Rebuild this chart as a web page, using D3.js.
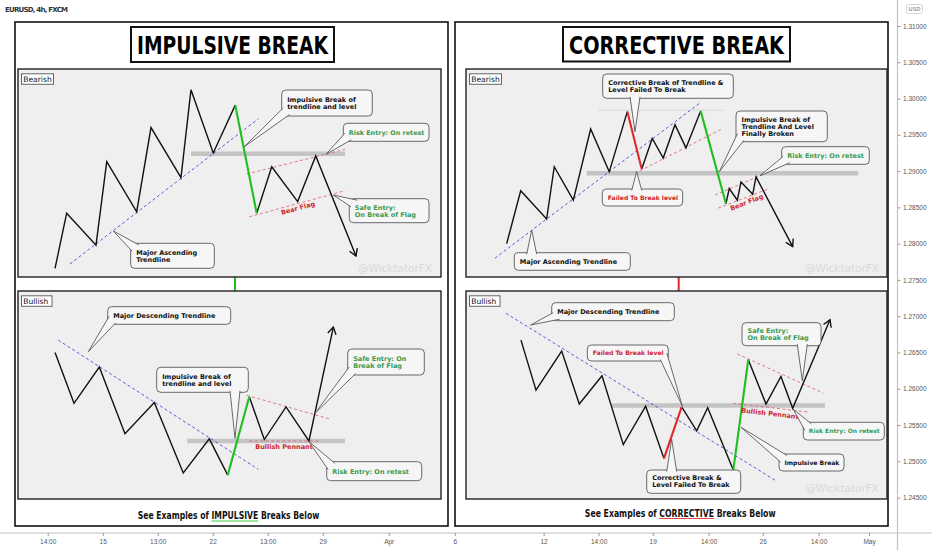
<!DOCTYPE html>
<html lang="en">
<head>
<meta charset="utf-8">
<title>Impulsive vs Corrective Break</title>
<script src="https://cdnjs.cloudflare.com/ajax/libs/d3/7.8.5/d3.min.js"></script>
<style>
    body { margin: 0; background: #fff; }
    svg { display: block; }
    text { font-family: "DejaVu Sans", sans-serif; }
    .axis text { font-family: "Liberation Sans", sans-serif; font-size: 6.5px; fill: #555; }
    .axis line { stroke: #999; }
    .axis path { display: none; }
</style>
</head>
<body>
<svg width="932" height="550"></svg>
<script>
// ---- axis data (x in 4h bars, y in price) ----
const xTickBars   = [5, 11, 17, 23, 29, 35, 42.2, 49.4, 59.1, 65.1, 71, 77.1, 83, 89.1, 94.6];
const xTickLabels = ["14:00", "15", "13:00", "22", "13:00", "29", "Apr", "6", "12", "14:00", "19", "14:00", "26", "14:00", "May"];
const priceTicks  = [1.245, 1.25, 1.255, 1.26, 1.265, 1.27, 1.275, 1.28, 1.285, 1.29, 1.295, 1.30, 1.305, 1.31];

// ---- impulsive / bearish  [bar, price] ----
const tlBefore  = [[5.80,1.2766],[7.07,1.2842],[10.27,1.2798],[11.44,1.2913],[14.71,1.2844],[16.27,1.2960],[19.54,1.2891],[20.63,1.3012],[23.06,1.2925],[25.46,1.2991]];
const tlBreak   = [[25.46,1.2991],[27.80,1.2842]];
const tlAfter   = [[27.80,1.2842],[29.44,1.2906],[32.27,1.2858],[34.24,1.2921],[38.63,1.2783]];
const tlTrend   = [[7.43,1.2772],[27.97,1.2972]];
const tlLevel   = [[20.63,1.2924],[37.43,1.2924]];
const tlFlagTop = [[26.71,1.2896],[37.43,1.2930]];
const tlFlagBot = [[26.99,1.2837],[37.43,1.2873]];

// ---- corrective / bearish ----
const trBefore  = [[55.07,1.2800],[56.60,1.2873],[59.43,1.2834],[60.26,1.2906],[62.34,1.2860],[64.23,1.2958],[66.26,1.2899],[68.23,1.2982]];
const trFail    = [[68.23,1.2982],[69.80,1.2903]];
const trMid     = [[69.80,1.2903],[70.95,1.2945],[72.15,1.2918],[73.43,1.2964],[74.63,1.2932],[76.23,1.2983]];
const trBreak   = [[76.23,1.2983],[78.99,1.2855]];
const trAfter   = [[78.99,1.2855],[79.35,1.2876],[80.23,1.2860],[80.63,1.2885],[81.91,1.2868],[82.27,1.2892],[86.27,1.2796]];
const trTrend   = [[53.79,1.2780],[76.16,1.2994]];
const trChannel = [[69.07,1.2897],[78.70,1.2959]];
const trHigh    = [[65.06,1.2984],[78.70,1.2984]];
const trLevel   = [[63.80,1.2897],[93.43,1.2897]];
const trFlagTop = [[77.79,1.2867],[83.72,1.2899]];
const trFlagBot = [[78.15,1.2849],[83.72,1.2876]];

// ---- impulsive / bullish ----
const blBefore  = [[5.80,1.2650],[7.87,1.2580],[10.63,1.2630],[13.43,1.2538],[16.63,1.2581],[19.79,1.2484],[22.63,1.2531],[24.64,1.2481]];
const blBreak   = [[24.64,1.2481],[26.99,1.2589]];
const blAfter   = [[26.99,1.2589],[28.63,1.2530],[31.00,1.2575],[33.50,1.2528],[36.16,1.2685]];
const blTrend   = [[6.16,1.2667],[27.97,1.2489]];
const blLevel   = [[20.23,1.2528],[37.43,1.2528]];
const blFlagTop = [[26.71,1.2591],[35.87,1.2558]];
const blFlagBot = [[26.99,1.2528],[34.52,1.2528]];

// ---- corrective / bullish ----
const brBefore  = [[56.63,1.2667],[58.27,1.2598],[61.07,1.2652],[62.99,1.2579],[65.47,1.2618],[67.79,1.2523],[70.23,1.2576],[72.23,1.2504]];
const brFail    = [[72.23,1.2504],[74.16,1.2575]];
const brMid     = [[74.16,1.2575],[75.80,1.2542],[77.00,1.2574],[79.79,1.2488]];
const brBreak   = [[79.79,1.2488],[81.43,1.2640]];
const brAfter   = [[81.43,1.2640],[83.36,1.2579],[84.99,1.2617],[86.27,1.2573],[90.34,1.2695]];
const brTrend   = [[54.99,1.2704],[84.34,1.2474]];
const brLevel   = [[66.52,1.2577],[89.79,1.2577]];
const brFlagTop = [[80.23,1.2648],[89.61,1.2594]];
const brFlagBot = [[79.79,1.2580],[87.97,1.2568]];

// pattern names sit on the flag lines
const flagNames = ["Bear Flag", "Bear Flag", "Bullish Pennant", "Bullish Pennant"];
const flagNameAt = [[32.30,1.2849],[81.25,1.2857],[30.78,1.2520],[83.79,1.2566]];

const GREEN = "#1fbf1f", RED = "#e3262b", INK = "#111";
const TXT_GREEN = "#3b9a4f", TXT_RED = "#cf1f2e";

const svg = d3.select("svg");
const x = d3.scaleLinear().domain([0, 100]).range([1.865, 918.535]);
const y = d3.scaleLinear().domain([1.245, 1.31]).range([497.6, 26]);
const line = d3.line().x(d => x(d[0])).y(d => y(d[1]));

// ---- frame layout (pixels) ----
const outer  = [[15,22,448,526],[455,22,888,526]];
const titles = [{t:"IMPULSIVE BREAK", b:[131,27,334,62], w:191}, {t:"CORRECTIVE BREAK", b:[563,27,790,61.5], w:215}];
const panels = [[18,69,441,277,"Bearish"],[466,69,887,277,"Bearish"],[18,291,441,499,"Bullish"],[466,291,887,499,"Bullish"]];

svg.append("text").attr("x", 5).attr("y", 11.5).attr("font-size", 7).attr("fill", "#333")
    .attr("font-weight", "bold").attr("textLength", 63).text("EURUSD, 4h, FXCM");

svg.selectAll(".outer").data(outer).enter().append("rect")
    .attr("x", d => d[0]).attr("y", d => d[1]).attr("width", d => d[2]-d[0]).attr("height", d => d[3]-d[1])
    .attr("fill", "#fff").attr("stroke", "#111").attr("stroke-width", 1.6);

titles.forEach(d => {
    svg.append("rect").attr("x", d.b[0]).attr("y", d.b[1]).attr("width", d.b[2]-d.b[0]).attr("height", d.b[3]-d.b[1])
        .attr("fill", "#fff").attr("stroke", "#111").attr("stroke-width", 2);
    svg.append("text").attr("x", (d.b[0]+d.b[2])/2).attr("y", 53.5).attr("text-anchor", "middle")
        .attr("font-family", "Open Sans").attr("font-weight", 600).attr("font-size", 24.5)
        .attr("textLength", d.w).attr("lengthAdjust", "spacingAndGlyphs").attr("fill", "#000").text(d.t);
});

// link stubs between the two panels of each column
svg.append("line").attr("x1", 235).attr("x2", 235).attr("y1", 277).attr("y2", 291).attr("stroke", GREEN).attr("stroke-width", 2);
svg.append("line").attr("x1", 678.7).attr("x2", 678.7).attr("y1", 277).attr("y2", 291).attr("stroke", RED).attr("stroke-width", 2);

panels.forEach(p => {
    svg.append("rect").attr("x", p[0]).attr("y", p[1]).attr("width", p[2]-p[0]).attr("height", p[3]-p[1])
        .attr("fill", "#efefef").attr("stroke", "#222").attr("stroke-width", 1.4);
    const lw = p[4] === "Bearish" ? 32 : 30.5;
    svg.append("rect").attr("x", p[0]+3.5).attr("y", p[1]+4.8).attr("width", lw).attr("height", 10.5)
        .attr("fill", "#fff").attr("stroke", "#666").attr("stroke-width", 1);
    svg.append("text").attr("x", p[0]+5.2).attr("y", p[1]+13).attr("font-size", 7.6).attr("fill", "#111").text(p[4]);
});

// watermarks
[[358,272],[805,272],[805,492]].forEach(w => {
    svg.append("text").attr("x", w[0]).attr("y", w[1]).attr("font-size", 10.5).attr("fill", "#d9d9d9").text("@WicktatorFX");
});

// ---- chart drawings ----
const g = svg.append("g");
[tlLevel, trLevel, blLevel, brLevel].forEach(d =>
    g.append("path").attr("d", line(d)).attr("stroke", "#c4c4c4").attr("stroke-width", 4.5).attr("fill", "none"));
g.append("path").attr("d", line(trHigh)).attr("stroke", "#d2d2d2").attr("stroke-width", 0.8).attr("fill", "none");

[tlTrend, trTrend, blTrend, brTrend].forEach(d =>
    g.append("path").attr("d", line(d)).attr("stroke", "#4a4ad8").attr("stroke-width", 0.9)
        .attr("stroke-dasharray", "3,2.5").attr("fill", "none"));

[tlFlagTop, tlFlagBot, trChannel, trFlagTop, trFlagBot, blFlagTop, blFlagBot, brFlagTop, brFlagBot].forEach(d =>
    g.append("path").attr("d", line(d)).attr("stroke", "#dd6675").attr("stroke-width", 0.9)
        .attr("stroke-dasharray", "3,2.5").attr("fill", "none"));

const legs = [
    [tlBefore, INK], [tlAfter, INK], [trBefore, INK], [trMid, INK], [trAfter, INK],
    [blBefore, INK], [blAfter, INK], [brBefore, INK], [brMid, INK], [brAfter, INK],
    [tlBreak, GREEN], [trFail, RED], [trBreak, GREEN], [blBreak, GREEN], [brFail, RED], [brBreak, GREEN]
];
legs.forEach(([d, c]) =>
    g.append("path").attr("d", line(d)).attr("stroke", c).attr("stroke-width", c === INK ? 1.4 : 2.1)
        .attr("fill", "none").attr("stroke-linejoin", "miter"));

// arrow heads on the projected move
[tlAfter, trAfter, blAfter, brAfter].forEach(d => {
    const a = d[d.length-2], b = d[d.length-1];
    const bx = x(b[0]), by = y(b[1]);
    const ang = Math.atan2(by - y(a[1]), bx - x(a[0]));
    const L = 8;
    const p1 = [bx - L*Math.cos(ang-0.55), by - L*Math.sin(ang-0.55)];
    const p2 = [bx - L*Math.cos(ang+0.55), by - L*Math.sin(ang+0.55)];
    g.append("path").attr("d", `M${p1}L${bx},${by}L${p2}`).attr("stroke", INK).attr("stroke-width", 1.4).attr("fill", "none");
});

// flag / pennant names, turned to the slope of their lower line
[tlFlagBot, trFlagBot, blFlagBot, brFlagBot].forEach((d, i) => {
    const ang = Math.atan2(y(d[1][1]) - y(d[0][1]), x(d[1][0]) - x(d[0][0])) * 180 / Math.PI;
    const cx = x(flagNameAt[i][0]), cy = y(flagNameAt[i][1]);
    g.append("text").attr("transform", `translate(${cx},${cy}) rotate(${ang})`).attr("text-anchor", "middle")
        .attr("dy", "0.35em").attr("font-size", 6.5).attr("font-weight", "bold").attr("fill", TXT_RED).text(flagNames[i]);
});

// ---- callouts (box and tip in pixels) ----
const callouts = [
    {t:["Impulsive Break of","trendline and level"], c:INK, b:[281.7,90,372.3,116], tip:[244.3,146.7]},
    {t:["Risk Entry: On retest"], c:TXT_GREEN, b:[343.3,123.3,429,141.3], tip:[326,154.3]},
    {t:["Safe Entry:","On Break of Flag"], c:TXT_GREEN, b:[349.3,198.7,429,222.7], tip:[333.3,195]},
    {t:["Major Ascending","Trendline"], c:INK, b:[130.7,243.3,214.3,268.3], tip:[113.3,231]},
    {t:["Corrective Break of Trendline &","Level Failed To Break"], c:INK, b:[602.7,74,733.3,98.3], tip:[635,131.7]},
    {t:["Impulsive Break of","Trendline And Level","Finally Broken"], c:INK, b:[736,111,827.3,141.7], tip:[719.3,171.7]},
    {t:["Risk Entry: On retest"], c:TXT_GREEN, b:[781.7,146.7,869.3,164.3], tip:[760,175.7]},
    {t:["Failed To Break level"], c:TXT_RED, b:[602.3,189,682.7,206], tip:[636.7,171.7]},
    {t:["Major Ascending Trendline"], c:INK, b:[514.3,252.7,630.3,270.3], tip:[531.7,230]},
    {t:["Major Descending Trendline"], c:INK, b:[107.7,306.7,230.7,324.3], tip:[88.3,351.7]},
    {t:["Impulsive Break of","trendline and level"], c:INK, b:[156.7,367.3,248.3,392.3], tip:[235,438.3]},
    {t:["Safe Entry: On","Break of Flag"], c:TXT_GREEN, b:[347.7,349,424.3,375], tip:[315,413.3]},
    {t:["Risk Entry: On retest"], c:TXT_GREEN, b:[326.7,461.7,421.7,480.7], tip:[309,441.7]},
    {t:["Major Descending Trendline"], c:INK, b:[551.7,302.7,674.3,320.7], tip:[530.7,325]},
    {t:["Failed To Break level"], c:TXT_RED, b:[587.3,345,668.3,361], tip:[682.3,406]},
    {t:["Safe Entry:","On Break of Flag"], c:TXT_GREEN, b:[742,322.7,821,345.7], tip:[802.3,380.7]},
    {t:["Risk Entry: On retest"], c:TXT_GREEN, b:[803.3,422.3,884.3,440], tip:[793.3,409.3]},
    {t:["Impulsive Break"], c:INK, b:[779,454,844,471], tip:[741,427.3]},
    {t:["Corrective Break &","Level Failed To Break"], c:INK, b:[646.7,470,740.7,493.3], tip:[671.7,439.3]}
];

function tailBase(b, t) {
    const [x0, y0, x1, y1] = b, [tx, ty] = t, w = 5, ins = 1.5;
    const dx = tx < x0 ? x0 - tx : tx > x1 ? tx - x1 : 0;
    const dy = ty < y0 ? y0 - ty : ty > y1 ? ty - y1 : 0;
    if (dx > 0 && dy > 0) {
        const cx = tx < x0 ? x0 : x1, cy = ty < y0 ? y0 : y1;
        const sx = tx < x0 ? 1 : -1, sy = ty < y0 ? 1 : -1;
        return [[cx + sx*ins, cy + sy*(w + 3)], [cx + sx*(w + 3), cy + sy*ins]];
    }
    if (dx > 0) {
        const ex = tx < x0 ? x0 + ins : x1 - ins;
        const ey = Math.max(y0 + w + 2, Math.min(y1 - w - 2, ty));
        return [[ex, ey - w], [ex, ey + w]];
    }
    const ey = ty < y0 ? y0 + ins : y1 - ins;
    const ex = Math.max(x0 + w + 2, Math.min(x1 - w - 2, tx));
    return [[ex - w, ey], [ex + w, ey]];
}

const cg = svg.append("g");
callouts.forEach(d => {
    const [x0, y0, x1, y1] = d.b;
    cg.append("rect").attr("x", x0).attr("y", y0).attr("width", x1-x0).attr("height", y1-y0).attr("rx", 4)
        .attr("fill", "#f6f6f6").attr("stroke", "#5a5a5a").attr("stroke-width", 0.9);
    const [b1, b2] = tailBase(d.b, d.tip);
    cg.append("path").attr("d", `M${b1}L${d.tip}L${b2}`).attr("fill", "#f6f6f6")
        .attr("stroke", "#5a5a5a").attr("stroke-width", 0.9);
    const lh = 7, cy = (y0 + y1) / 2;
    const texts = d.t.map((s, i) =>
        cg.append("text").attr("x", x0 + 5.5).attr("y", cy - (d.t.length-1)*lh/2 + i*lh + 2.3)
            .attr("font-size", 6.5).attr("font-weight", "bold").attr("fill", d.c).text(s));
    // shrink the font when the longest line would run past the box
    const widest = d3.max(texts, t => t.node().getComputedTextLength());
    const room = (x1 - x0) - 10;
    if (widest > room) texts.forEach(t => t.attr("font-size", 6.5 * room / widest));
});

// ---- captions: full-height letters, squeezed horizontally to the reference width ----
[{w:"IMPULSIVE", c:GREEN, cx:228.5, y:519, len:181.6}, {w:"CORRECTIVE", c:RED, cx:680.2, y:516.5, len:191}].forEach(d => {
    const cap = svg.append("g");
    const t = cap.append("text").attr("x", 0).attr("y", 0).attr("text-anchor", "middle")
        .attr("font-family", "Open Sans").attr("font-weight", 600).attr("font-size", 10.4).attr("fill", "#111");
    const pre = "See Examples of ";
    t.append("tspan").text(pre);
    t.append("tspan").text(d.w);
    t.append("tspan").text(" Breaks Below");
    const n = t.node();
    const s = d.len / n.getComputedTextLength();
    cap.attr("transform", `translate(${d.cx},${d.y}) scale(${s},1)`);
    const sx = n.getStartPositionOfChar(pre.length).x, ex = n.getEndPositionOfChar(pre.length + d.w.length - 1).x;
    cap.append("line").attr("x1", sx).attr("x2", ex).attr("y1", 2).attr("y2", 2).attr("stroke", d.c).attr("stroke-width", 1);
});

// ---- axes ----
svg.append("line").attr("x1", 897.5).attr("x2", 897.5).attr("y1", 0).attr("y2", 550).attr("stroke", "#c2c2c2").attr("stroke-width", 1.2);
svg.append("line").attr("x1", 0).attr("x2", 932).attr("y1", 533).attr("y2", 533).attr("stroke", "#c2c2c2").attr("stroke-width", 1.2);

svg.append("g").attr("class", "axis").attr("transform", "translate(897.5,0)")
    .call(d3.axisRight(y).tickValues(priceTicks).tickFormat(d3.format(".5f")).tickSize(3).tickPadding(2.5));
svg.append("g").attr("class", "axis").attr("transform", "translate(0,533)")
    .call(d3.axisBottom(x).tickValues(xTickBars).tickFormat((d, i) => xTickLabels[i]).tickSize(3).tickPadding(3));

svg.append("rect").attr("x", 906.5).attr("y", 4.5).attr("width", 16).attr("height", 9).attr("rx", 2)
    .attr("fill", "#fff").attr("stroke", "#ccc").attr("stroke-width", 0.8);
svg.append("text").attr("x", 914.5).attr("y", 11.3).attr("text-anchor", "middle").attr("font-size", 5.5)
    .attr("font-family", "Liberation Sans").attr("fill", "#666").text("USD");
</script>
</body>
</html>
